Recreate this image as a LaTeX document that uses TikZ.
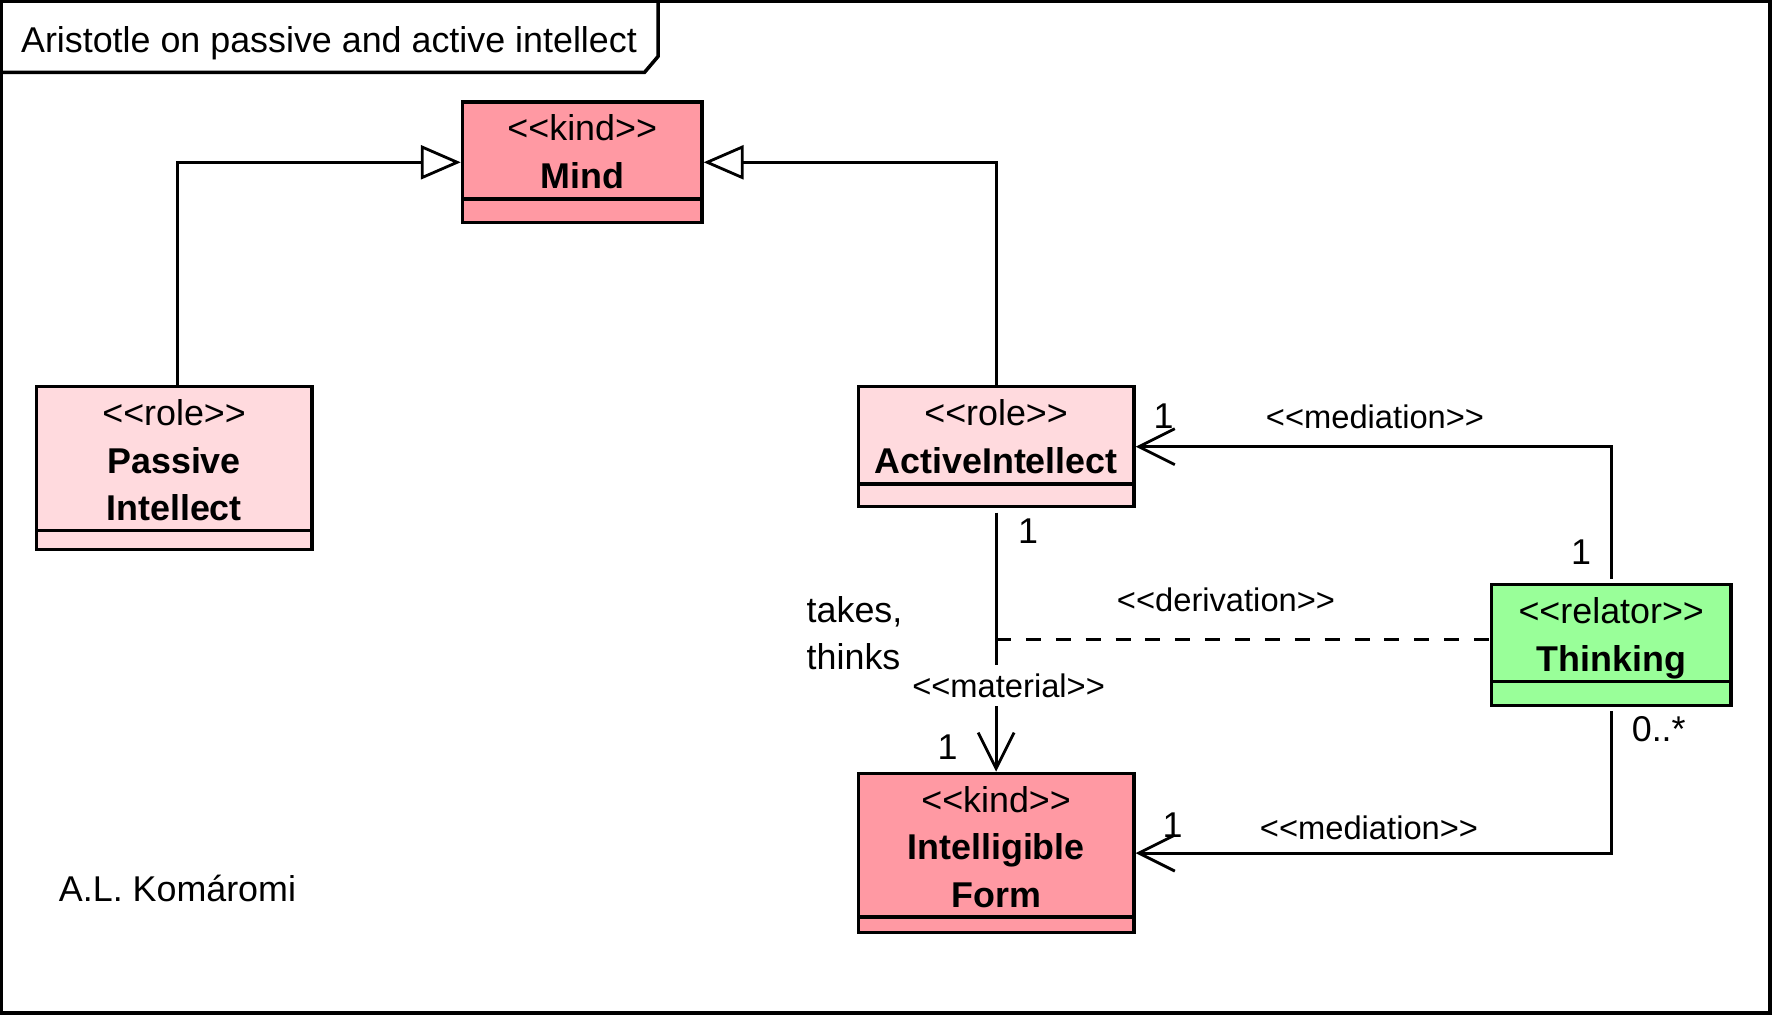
\documentclass[tikz,border=0pt]{standalone}
\usepackage{fontspec}
\setmainfont{Liberation Sans}
\usetikzlibrary{arrows.meta, positioning, calc}
\definecolor{kindred}{RGB}{255,153,163}
\definecolor{rolepink}{RGB}{255,218,222}
\definecolor{relatorgreen}{RGB}{153,255,153}
\newcommand{\stereo}[1]{<\kern0pt<#1>\kern0pt>}

\tikzset{
  classbox/.style={draw, line width=0.95pt, inner sep=0pt,
    path picture={\draw[line width=0.95pt]
      ([yshift=#1]path picture bounding box.south west) --
      ([yshift=#1]path picture bounding box.south east);}},
  classtext/.style={align=center, anchor=north, inner sep=4pt,
    font=\fontsize{10.2}{13.5}\selectfont},
  linklabel/.style={font=\fontsize{9.3}{11}\selectfont, inner sep=1pt},
  mult/.style={font=\fontsize{10.2}{12}\selectfont, inner sep=1pt},
  generalization/.style={line width=0.8pt, -{Triangle[fill=white, length=4mm, width=3.4mm]}},
  mediation/.style={line width=0.8pt, shorten <=1.2pt, -{Straight Barb[length=3.6mm, width=3.6mm]}},
  derivation/.style={line width=0.85pt, dash pattern=on 4.25pt off 4.25pt},
}

\begin{document}
\begin{tikzpicture}
    \useasboundingbox (0,0) rectangle (17.73,-10.17);

    % Frame and title tab
    \draw[line width=1pt] (0.014,-0.014) rectangle (17.70,-10.13);
    \draw[line width=1pt] (0,-0.724) -- (6.445,-0.724) -- (6.58,-0.565) -- (6.58,0);
    \node[anchor=west, inner sep=0pt, font=\fontsize{10.2}{12}\selectfont] (title) at (0.204,-0.43) {Aristotle on passive and active intellect};

    % Classes
    \node[classbox=0.237cm, fill=kindred, minimum width=2.395cm, minimum height=1.209cm,
      label={[classtext]north:{\stereo{kind}\\\textbf{Mind}}}] (mind) at (5.822,-1.623) {};
    \node[classbox=0.192cm, fill=rolepink, minimum width=2.758cm, minimum height=1.628cm,
      label={[classtext]north:{\stereo{role}\\\textbf{Passive}\\\textbf{Intellect}}}] (passive) at (1.741,-4.681) {};
    \node[classbox=0.226cm, fill=rolepink, minimum width=2.758cm, minimum height=1.199cm,
      label={[classtext]north:{\stereo{role}\\\textbf{ActiveIntellect}}}] (active) at (9.961,-4.467) {};
    \node[classbox=0.238cm, fill=relatorgreen, minimum width=2.396cm, minimum height=1.210cm,
      label={[classtext]north:{\stereo{relator}\\\textbf{Thinking}}}] (thinking) at (16.112,-6.451) {};
    \node[classbox=0.158cm, fill=kindred, minimum width=2.758cm, minimum height=1.594cm,
      label={[classtext]north:{\stereo{kind}\\\textbf{Intelligible}\\\textbf{Form}}}] (iform) at (9.961,-8.531) {};

    % Generalizations
    \draw[generalization] ([xshift=0.035cm]passive.north) |- (mind.west);
    \draw[generalization] (active.north) |- (mind.east);

    % Mediations
    \draw[mediation] (thinking.north) |- (active.east);
    \draw[mediation] (thinking.south) |- (iform.east);
    \node[linklabel] (medtop) at (13.75,-4.17) {\stereo{mediation}};
    \node[linklabel] (medbottom) at (13.69,-8.277) {\stereo{mediation}};
    \node[mult] (multa) at (11.635,-4.16) {1};
    \node[mult] (multb) at (15.81,-5.52) {1};
    \node[mult] (multc) at (11.725,-8.254) {1};
    \node[mult] (multd) at (16.587,-7.293) {0..*};

    % Material relation and derivation
    \draw[mediation] (active.south) -- (iform.north)
      node[linklabel, fill=white, inner sep=2.5pt, pos=0.672, xshift=0.125cm] (material) {\stereo{material}};
    \draw[derivation] ([yshift=0.06cm]thinking.west -| active.south) -- ([yshift=0.06cm]thinking.west);
    \node[linklabel] (derivlabel) at (12.26,-6.00) {\stereo{derivation}};
    \node[mult] (multe) at (10.28,-5.31) {1};
    \node[mult] (multf) at (9.475,-7.474) {1};
    \node[anchor=west, align=left, inner sep=0pt, font=\fontsize{10.2}{13.5}\selectfont] (takes) at (8.06,-6.33) {takes,\\thinks};

    \node[font=\fontsize{10.2}{12}\selectfont] (author) at (1.775,-8.887) {A.L. Komáromi};
\end{tikzpicture}
\end{document}
